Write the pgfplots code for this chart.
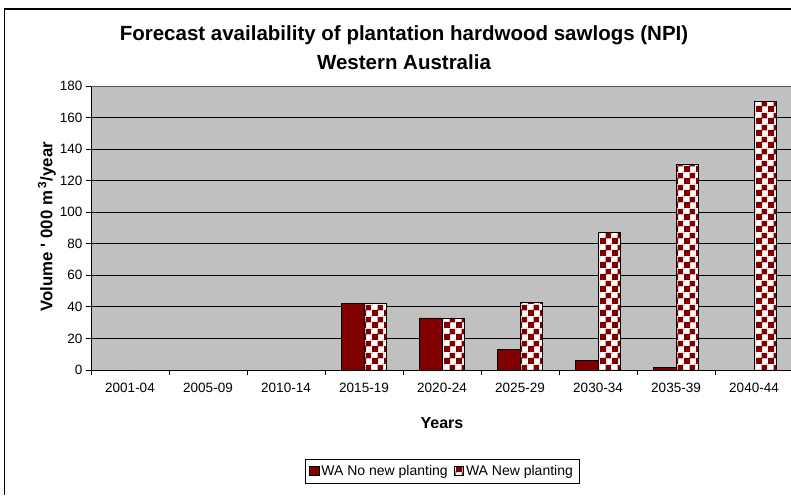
\documentclass[border=0pt]{standalone}
\usepackage{fontspec}
\setmainfont{Liberation Sans}
\usepackage{pgfplots}
\pgfplotsset{compat=1.18}
\usetikzlibrary{patterns.meta}

\definecolor{darkred}{HTML}{800000}
\definecolor{plotgray}{HTML}{C0C0C0}

% red/white checks for the "new planting" bars (red squares a bit fuller)
\tikzdeclarepattern{
  name=checker,
  type=uncolored,
  bounding box={(0pt,0pt) and (12pt,12pt)},
  tile size={(12pt,12pt)},
  code={
    \fill (0pt,0pt) rectangle (6.6pt,6.6pt);
    \fill (6pt,6pt) rectangle (12pt,12pt);
    \fill (0pt,11.4pt) rectangle (0.6pt,12pt);
    \fill (11.4pt,0pt) rectangle (12pt,0.6pt);
  }
}

\begin{document}
\begin{tikzpicture}
% chart frame (right and bottom edges lie outside the picture)
\draw[line width=1.5pt] (4.5pt,-495pt) -- (4.5pt,-9pt) -- (791pt,-9pt);

\node[font=\fontsize{20.5}{24}\selectfont\bfseries] at (404pt,-35pt)
  {Forecast availability of plantation hardwood sawlogs (NPI)};
\node[font=\fontsize{20.5}{24}\selectfont\bfseries] at (404pt,-62pt)
  {Western Australia};

\begin{axis}[
    at={(91pt,-370pt)}, anchor=south west,
    width=702pt, height=284pt, scale only axis,
    xmin=-0.5, xmax=8.5,
    ymin=0, ymax=180,
    ytick={0,20,...,180},
    xtick={-0.5,0.5,...,8.5},
    x tick label as interval,
    xticklabels={2001-04,2005-09,2010-14,2015-19,2020-24,2025-29,2030-34,2035-39,2040-44},
    tick align=outside,
    major tick length=5pt,
    tick style={black, line width=0.8pt},
    axis x line*=bottom, axis y line*=left,
    axis line style={-, black, line width=0.8pt},
    axis background/.style={fill=plotgray},
    ymajorgrids,
    grid style={black, line width=0.8pt},
    ticklabel style={font=\fontsize{13.5}{16}\selectfont},
    xticklabel style={yshift=-5pt},
    /pgf/number format/assume math mode=true,
    xlabel={Years},
    xlabel style={font=\fontsize{16}{19}\selectfont\bfseries,
      at={(axis description cs:0.5,-0.187)}, anchor=center},
    ylabel={Volume \textquotesingle\ 000 m\,\textsuperscript{3}/year},
    ylabel style={font=\fontsize{16.8}{19}\selectfont\bfseries,
      at={(axis description cs:-0.0627,0.505)}, anchor=center, rotate=0},
    ybar=0pt,
    bar width=22.5pt,
    legend columns=2,
    legend style={at={(axis description cs:0.5,-0.356)}, anchor=center,
      draw=black, line width=0.8pt, inner xsep=4pt, inner ysep=4pt,
      font=\fontsize{14}{16}\selectfont,
      /tikz/every even column/.append style={column sep=4pt}},
    legend image code/.code={\draw[#1] (0pt,-4.5pt) rectangle (9.5pt,4.5pt);},
]
\addplot[fill=darkred, draw=black, line width=0.8pt] coordinates {
    (0,0) (1,0) (2,0) (3,42) (4,33) (5,13.3) (6,6.1) (7,1.5) (8,0)
};
\addplot[preaction={fill=white}, pattern=checker, pattern color=darkred,
         draw=black, line width=0.8pt] coordinates {
    (0,0) (1,0) (2,0) (3,42) (4,33) (5,42.6) (6,87.2) (7,130) (8,170)
};
\legend{WA No new planting, WA New planting}
\draw[gray!70!black, line width=0.8pt] (axis cs:-0.5,180) -- (axis cs:8.5,180);
\end{axis}

\pgfresetboundingbox
\useasboundingbox (0pt,0pt) rectangle (791pt,-495pt);
\end{tikzpicture}
\end{document}
